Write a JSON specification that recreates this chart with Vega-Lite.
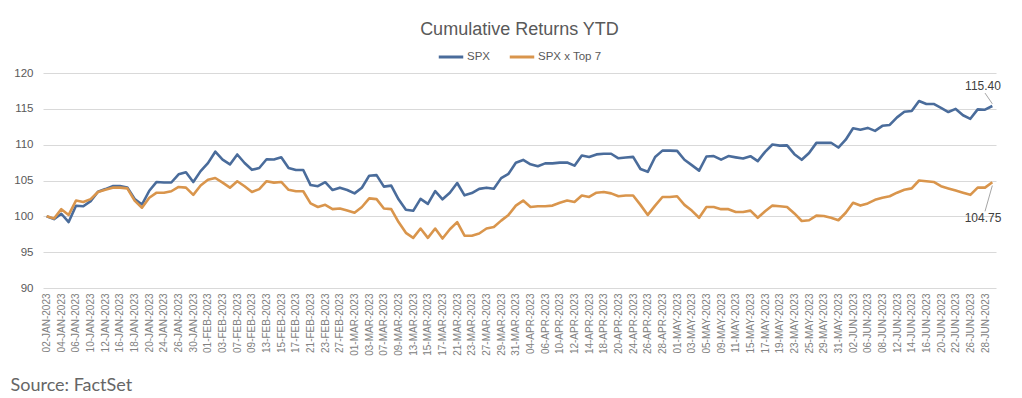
{
  "$schema": "https://vega.github.io/schema/vega-lite/v6.json",
  "width": 953,
  "height": 215,
  "autosize": {"type": "none"},
  "padding": {"left": 43, "top": 73, "right": 26, "bottom": 110},
  "background": "white",
  "title": {"text": "Cumulative Returns YTD", "font": "Liberation Sans", "fontSize": 18, "fontWeight": "normal", "color": "#595959", "frame": "group", "anchor": "middle", "baseline": "alphabetic", "offset": -10},
  "config": {"view": {"stroke": null}, "font": "Liberation Sans"},
  "data": {"values": [
    {"i":0,"d":"02-JAN-2023","SPX":100.00,"SPX x Top 7":100.0},
    {"i":1,"d":"03-JAN-2023","SPX":99.61,"SPX x Top 7":99.7},
    {"i":2,"d":"04-JAN-2023","SPX":100.36,"SPX x Top 7":101.0},
    {"i":3,"d":"05-JAN-2023","SPX":99.20,"SPX x Top 7":100.2},
    {"i":4,"d":"06-JAN-2023","SPX":101.48,"SPX x Top 7":102.2},
    {"i":5,"d":"09-JAN-2023","SPX":101.40,"SPX x Top 7":102.0},
    {"i":6,"d":"10-JAN-2023","SPX":102.12,"SPX x Top 7":102.4},
    {"i":7,"d":"11-JAN-2023","SPX":103.44,"SPX x Top 7":103.4},
    {"i":8,"d":"12-JAN-2023","SPX":103.80,"SPX x Top 7":103.7},
    {"i":9,"d":"13-JAN-2023","SPX":104.22,"SPX x Top 7":104.0},
    {"i":10,"d":"16-JAN-2023","SPX":104.22,"SPX x Top 7":104.0},
    {"i":11,"d":"17-JAN-2023","SPX":104.03,"SPX x Top 7":103.9},
    {"i":12,"d":"18-JAN-2023","SPX":102.41,"SPX x Top 7":102.2},
    {"i":13,"d":"19-JAN-2023","SPX":101.64,"SPX x Top 7":101.2},
    {"i":14,"d":"20-JAN-2023","SPX":103.57,"SPX x Top 7":102.6},
    {"i":15,"d":"23-JAN-2023","SPX":104.80,"SPX x Top 7":103.3},
    {"i":16,"d":"24-JAN-2023","SPX":104.73,"SPX x Top 7":103.3},
    {"i":17,"d":"25-JAN-2023","SPX":104.72,"SPX x Top 7":103.5},
    {"i":18,"d":"26-JAN-2023","SPX":105.87,"SPX x Top 7":104.1},
    {"i":19,"d":"27-JAN-2023","SPX":106.15,"SPX x Top 7":104.0},
    {"i":20,"d":"30-JAN-2023","SPX":104.78,"SPX x Top 7":103.0},
    {"i":21,"d":"31-JAN-2023","SPX":106.31,"SPX x Top 7":104.3},
    {"i":22,"d":"01-FEB-2023","SPX":107.43,"SPX x Top 7":105.1},
    {"i":23,"d":"02-FEB-2023","SPX":109.02,"SPX x Top 7":105.35},
    {"i":24,"d":"03-FEB-2023","SPX":107.90,"SPX x Top 7":104.7},
    {"i":25,"d":"06-FEB-2023","SPX":107.24,"SPX x Top 7":104.0},
    {"i":26,"d":"07-FEB-2023","SPX":108.63,"SPX x Top 7":104.9},
    {"i":27,"d":"08-FEB-2023","SPX":107.44,"SPX x Top 7":104.2},
    {"i":28,"d":"09-FEB-2023","SPX":106.49,"SPX x Top 7":103.4},
    {"i":29,"d":"10-FEB-2023","SPX":106.74,"SPX x Top 7":103.8},
    {"i":30,"d":"13-FEB-2023","SPX":107.97,"SPX x Top 7":104.9},
    {"i":31,"d":"14-FEB-2023","SPX":107.94,"SPX x Top 7":104.7},
    {"i":32,"d":"15-FEB-2023","SPX":108.24,"SPX x Top 7":104.8},
    {"i":33,"d":"16-FEB-2023","SPX":106.76,"SPX x Top 7":103.7},
    {"i":34,"d":"17-FEB-2023","SPX":106.47,"SPX x Top 7":103.5},
    {"i":35,"d":"20-FEB-2023","SPX":106.47,"SPX x Top 7":103.5},
    {"i":36,"d":"21-FEB-2023","SPX":104.36,"SPX x Top 7":101.8},
    {"i":37,"d":"22-FEB-2023","SPX":104.21,"SPX x Top 7":101.3},
    {"i":38,"d":"23-FEB-2023","SPX":104.76,"SPX x Top 7":101.6},
    {"i":39,"d":"24-FEB-2023","SPX":103.67,"SPX x Top 7":101.0},
    {"i":40,"d":"27-FEB-2023","SPX":104.00,"SPX x Top 7":101.1},
    {"i":41,"d":"28-FEB-2023","SPX":103.68,"SPX x Top 7":100.8},
    {"i":42,"d":"01-MAR-2023","SPX":103.20,"SPX x Top 7":100.5},
    {"i":43,"d":"02-MAR-2023","SPX":103.99,"SPX x Top 7":101.3},
    {"i":44,"d":"03-MAR-2023","SPX":105.67,"SPX x Top 7":102.5},
    {"i":45,"d":"06-MAR-2023","SPX":105.75,"SPX x Top 7":102.4},
    {"i":46,"d":"07-MAR-2023","SPX":104.15,"SPX x Top 7":101.1},
    {"i":47,"d":"08-MAR-2023","SPX":104.29,"SPX x Top 7":101.0},
    {"i":48,"d":"09-MAR-2023","SPX":102.38,"SPX x Top 7":99.2},
    {"i":49,"d":"10-MAR-2023","SPX":100.92,"SPX x Top 7":97.7},
    {"i":50,"d":"13-MAR-2023","SPX":100.77,"SPX x Top 7":97.0},
    {"i":51,"d":"14-MAR-2023","SPX":102.43,"SPX x Top 7":98.3},
    {"i":52,"d":"15-MAR-2023","SPX":101.73,"SPX x Top 7":97.0},
    {"i":53,"d":"16-MAR-2023","SPX":103.52,"SPX x Top 7":98.3},
    {"i":54,"d":"17-MAR-2023","SPX":102.38,"SPX x Top 7":96.9},
    {"i":55,"d":"20-MAR-2023","SPX":103.30,"SPX x Top 7":98.2},
    {"i":56,"d":"21-MAR-2023","SPX":104.65,"SPX x Top 7":99.2},
    {"i":57,"d":"22-MAR-2023","SPX":102.93,"SPX x Top 7":97.3},
    {"i":58,"d":"23-MAR-2023","SPX":103.24,"SPX x Top 7":97.3},
    {"i":59,"d":"24-MAR-2023","SPX":103.83,"SPX x Top 7":97.6},
    {"i":60,"d":"27-MAR-2023","SPX":104.00,"SPX x Top 7":98.3},
    {"i":61,"d":"28-MAR-2023","SPX":103.85,"SPX x Top 7":98.5},
    {"i":62,"d":"29-MAR-2023","SPX":105.33,"SPX x Top 7":99.4},
    {"i":63,"d":"30-MAR-2023","SPX":105.93,"SPX x Top 7":100.2},
    {"i":64,"d":"31-MAR-2023","SPX":107.47,"SPX x Top 7":101.5},
    {"i":65,"d":"03-APR-2023","SPX":107.87,"SPX x Top 7":102.2},
    {"i":66,"d":"04-APR-2023","SPX":107.26,"SPX x Top 7":101.3},
    {"i":67,"d":"05-APR-2023","SPX":106.99,"SPX x Top 7":101.4},
    {"i":68,"d":"06-APR-2023","SPX":107.39,"SPX x Top 7":101.4},
    {"i":69,"d":"07-APR-2023","SPX":107.39,"SPX x Top 7":101.5},
    {"i":70,"d":"10-APR-2023","SPX":107.50,"SPX x Top 7":101.9},
    {"i":71,"d":"11-APR-2023","SPX":107.51,"SPX x Top 7":102.2},
    {"i":72,"d":"12-APR-2023","SPX":107.07,"SPX x Top 7":102.0},
    {"i":73,"d":"13-APR-2023","SPX":108.49,"SPX x Top 7":102.9},
    {"i":74,"d":"14-APR-2023","SPX":108.28,"SPX x Top 7":102.7},
    {"i":75,"d":"17-APR-2023","SPX":108.64,"SPX x Top 7":103.3},
    {"i":76,"d":"18-APR-2023","SPX":108.73,"SPX x Top 7":103.4},
    {"i":77,"d":"19-APR-2023","SPX":108.73,"SPX x Top 7":103.2},
    {"i":78,"d":"20-APR-2023","SPX":108.10,"SPX x Top 7":102.8},
    {"i":79,"d":"21-APR-2023","SPX":108.20,"SPX x Top 7":102.9},
    {"i":80,"d":"24-APR-2023","SPX":108.30,"SPX x Top 7":102.9},
    {"i":81,"d":"25-APR-2023","SPX":106.61,"SPX x Top 7":101.6},
    {"i":82,"d":"26-APR-2023","SPX":106.21,"SPX x Top 7":100.2},
    {"i":83,"d":"27-APR-2023","SPX":108.28,"SPX x Top 7":101.5},
    {"i":84,"d":"28-APR-2023","SPX":109.17,"SPX x Top 7":102.7},
    {"i":85,"d":"30-APR-2023","SPX":109.17,"SPX x Top 7":102.7},
    {"i":86,"d":"01-MAY-2023","SPX":109.14,"SPX x Top 7":102.8},
    {"i":87,"d":"02-MAY-2023","SPX":107.89,"SPX x Top 7":101.6},
    {"i":88,"d":"03-MAY-2023","SPX":107.15,"SPX x Top 7":100.8},
    {"i":89,"d":"04-MAY-2023","SPX":106.38,"SPX x Top 7":99.8},
    {"i":90,"d":"05-MAY-2023","SPX":108.35,"SPX x Top 7":101.3},
    {"i":91,"d":"08-MAY-2023","SPX":108.41,"SPX x Top 7":101.3},
    {"i":92,"d":"09-MAY-2023","SPX":107.91,"SPX x Top 7":101.0},
    {"i":93,"d":"10-MAY-2023","SPX":108.41,"SPX x Top 7":101.0},
    {"i":94,"d":"11-MAY-2023","SPX":108.23,"SPX x Top 7":100.6},
    {"i":95,"d":"12-MAY-2023","SPX":108.06,"SPX x Top 7":100.6},
    {"i":96,"d":"15-MAY-2023","SPX":108.39,"SPX x Top 7":100.8},
    {"i":97,"d":"16-MAY-2023","SPX":107.71,"SPX x Top 7":99.8},
    {"i":98,"d":"17-MAY-2023","SPX":109.00,"SPX x Top 7":100.7},
    {"i":99,"d":"18-MAY-2023","SPX":110.02,"SPX x Top 7":101.5},
    {"i":100,"d":"19-MAY-2023","SPX":109.87,"SPX x Top 7":101.4},
    {"i":101,"d":"22-MAY-2023","SPX":109.90,"SPX x Top 7":101.3},
    {"i":102,"d":"23-MAY-2023","SPX":108.67,"SPX x Top 7":100.4},
    {"i":103,"d":"24-MAY-2023","SPX":107.89,"SPX x Top 7":99.35},
    {"i":104,"d":"25-MAY-2023","SPX":108.84,"SPX x Top 7":99.45},
    {"i":105,"d":"26-MAY-2023","SPX":110.25,"SPX x Top 7":100.1},
    {"i":106,"d":"29-MAY-2023","SPX":110.25,"SPX x Top 7":100.05},
    {"i":107,"d":"30-MAY-2023","SPX":110.27,"SPX x Top 7":99.8},
    {"i":108,"d":"31-MAY-2023","SPX":109.60,"SPX x Top 7":99.45},
    {"i":109,"d":"01-JUN-2023","SPX":110.69,"SPX x Top 7":100.5},
    {"i":110,"d":"02-JUN-2023","SPX":112.29,"SPX x Top 7":101.9},
    {"i":111,"d":"05-JUN-2023","SPX":112.08,"SPX x Top 7":101.5},
    {"i":112,"d":"06-JUN-2023","SPX":112.34,"SPX x Top 7":101.8},
    {"i":113,"d":"07-JUN-2023","SPX":111.93,"SPX x Top 7":102.3},
    {"i":114,"d":"08-JUN-2023","SPX":112.63,"SPX x Top 7":102.6},
    {"i":115,"d":"09-JUN-2023","SPX":112.75,"SPX x Top 7":102.8},
    {"i":116,"d":"12-JUN-2023","SPX":113.81,"SPX x Top 7":103.3},
    {"i":117,"d":"13-JUN-2023","SPX":114.60,"SPX x Top 7":103.7},
    {"i":118,"d":"14-JUN-2023","SPX":114.69,"SPX x Top 7":103.9},
    {"i":119,"d":"15-JUN-2023","SPX":116.09,"SPX x Top 7":105.0},
    {"i":120,"d":"16-JUN-2023","SPX":115.68,"SPX x Top 7":104.9},
    {"i":121,"d":"19-JUN-2023","SPX":115.68,"SPX x Top 7":104.8},
    {"i":122,"d":"20-JUN-2023","SPX":115.14,"SPX x Top 7":104.2},
    {"i":123,"d":"21-JUN-2023","SPX":114.55,"SPX x Top 7":103.9},
    {"i":124,"d":"22-JUN-2023","SPX":114.99,"SPX x Top 7":103.6},
    {"i":125,"d":"23-JUN-2023","SPX":114.11,"SPX x Top 7":103.3},
    {"i":126,"d":"26-JUN-2023","SPX":113.61,"SPX x Top 7":103.0},
    {"i":127,"d":"27-JUN-2023","SPX":114.92,"SPX x Top 7":104.0},
    {"i":128,"d":"28-JUN-2023","SPX":114.88,"SPX x Top 7":104.0},
    {"i":129,"d":"29-JUN-2023","SPX":115.40,"SPX x Top 7":104.75}
  ]},
  "layer": [
    {
      "transform": [{"fold": ["SPX", "SPX x Top 7"], "as": ["series", "value"]}],
      "mark": {"type": "line", "strokeWidth": 2.6, "strokeJoin": "round"},
      "encoding": {
        "x": {"field": "d", "type": "ordinal", "sort": null,
              "scale": {"type": "point", "padding": 0.5},
              "axis": {
                "values": ["02-JAN-2023","04-JAN-2023","06-JAN-2023","10-JAN-2023","12-JAN-2023","16-JAN-2023","18-JAN-2023","20-JAN-2023","24-JAN-2023","26-JAN-2023","30-JAN-2023","01-FEB-2023","03-FEB-2023","07-FEB-2023","09-FEB-2023","13-FEB-2023","15-FEB-2023","17-FEB-2023","21-FEB-2023","23-FEB-2023","27-FEB-2023","01-MAR-2023","03-MAR-2023","07-MAR-2023","09-MAR-2023","13-MAR-2023","15-MAR-2023","17-MAR-2023","21-MAR-2023","23-MAR-2023","27-MAR-2023","29-MAR-2023","31-MAR-2023","04-APR-2023","06-APR-2023","10-APR-2023","12-APR-2023","14-APR-2023","18-APR-2023","20-APR-2023","24-APR-2023","26-APR-2023","28-APR-2023","01-MAY-2023","03-MAY-2023","05-MAY-2023","09-MAY-2023","11-MAY-2023","15-MAY-2023","17-MAY-2023","19-MAY-2023","23-MAY-2023","25-MAY-2023","29-MAY-2023","31-MAY-2023","02-JUN-2023","06-JUN-2023","08-JUN-2023","12-JUN-2023","14-JUN-2023","16-JUN-2023","20-JUN-2023","22-JUN-2023","26-JUN-2023","28-JUN-2023"],
                "labelAngle": -90, "labelFontSize": 10, "labelColor": "#808080", "labelPadding": 5,
                "ticks": false, "domain": false, "grid": false,
                "title": "Source: FactSet", "titleFont": "Lato", "titleFontSize": 18, "titleFontWeight": "normal",
                "titleColor": "#666666", "titleAnchor": "start", "titleAlign": "left", "titleBaseline": "alphabetic",
                "titleX": -33, "titleY": 102
              }},
        "y": {"field": "value", "type": "quantitative",
              "scale": {"domain": [90, 120], "nice": false, "zero": false},
              "axis": {"values": [90, 95, 100, 105, 110, 115, 120], "title": null, "domain": false, "ticks": false, "labelOverlap": false,
                       "grid": true, "gridColor": "#d9d9d9", "gridWidth": 1, "labelFontSize": 11.5, "labelColor": "#595959", "labelPadding": 10}},
        "color": {"field": "series", "type": "nominal",
                  "scale": {"domain": ["SPX", "SPX x Top 7"], "range": ["#4a6c9b", "#d9954c"]},
                  "legend": {"title": null, "orient": "none", "legendX": 394, "legendY": -30, "direction": "horizontal",
                             "symbolType": "stroke", "symbolStrokeWidth": 3, "symbolSize": 600,
                             "labelFontSize": 11.5, "labelColor": "#595959", "columnPadding": 12, "labelOffset": 2}},
        "order": {"field": "i", "type": "quantitative"}
      }
    },
    {
      "data": {"values": [
        {"d1": "28-JUN-2023", "d2": "29-JUN-2023", "v1": 117.2, "v2": 115.7},
        {"d1": "29-JUN-2023", "d2": "28-JUN-2023", "v1": 104.3, "v2": 100.7}
      ]},
      "mark": {"type": "rule", "color": "#a6a6a6", "strokeWidth": 1},
      "encoding": {
        "x": {"field": "d1", "type": "ordinal", "sort": null},
        "x2": {"field": "d2"},
        "y": {"field": "v1", "type": "quantitative",
              "axis": {"values": [90, 95, 100, 105, 110, 115, 120], "title": null, "domain": false, "ticks": false, "labelOverlap": false,
                       "grid": true, "gridColor": "#d9d9d9", "gridWidth": 1, "labelFontSize": 11.5, "labelColor": "#595959", "labelPadding": 10}},
        "y2": {"field": "v2"}
      }
    },
    {
      "data": {"values": [
        {"d": "28-JUN-2023", "v": 117.5, "t": "115.40"},
        {"d": "28-JUN-2023", "v": 99.05, "t": "104.75"}
      ]},
      "mark": {"type": "text", "fontSize": 12, "color": "#404040", "baseline": "middle", "dx": -2, "dy": -5},
      "encoding": {
        "x": {"field": "d", "type": "ordinal", "sort": null},
        "y": {"field": "v", "type": "quantitative",
              "axis": {"values": [90, 95, 100, 105, 110, 115, 120], "title": null, "domain": false, "ticks": false, "labelOverlap": false,
                       "grid": true, "gridColor": "#d9d9d9", "gridWidth": 1, "labelFontSize": 11.5, "labelColor": "#595959", "labelPadding": 10}},
        "text": {"field": "t"}
      }
    }
  ]
}
